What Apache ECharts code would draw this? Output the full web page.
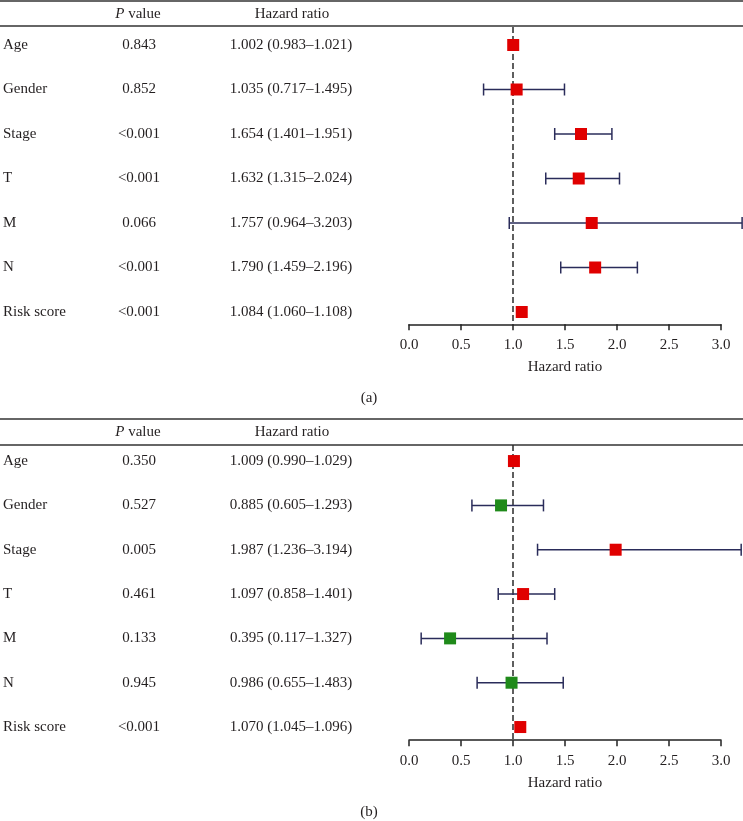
<!DOCTYPE html>
<html>
<head>
<meta charset="utf-8">
<script src="https://cdn.jsdelivr.net/npm/echarts@6/dist/echarts.min.js"></script>
<style>
html,body{margin:0;padding:0;background:#fff;}
#chart{width:743px;height:821px;}
</style>
</head>
<body>
<div id="chart"></div>
<script>
// ---- Data ----
var categories = ['Age', 'Gender', 'Stage', 'T', 'M', 'N', 'Risk score'];

var pValuesA = ['0.843', '0.852', '<0.001', '<0.001', '0.066', '<0.001', '<0.001'];
var hrA      = [1.002, 1.035, 1.654, 1.632, 1.757, 1.790, 1.084];
var lowerA   = [0.983, 0.717, 1.401, 1.315, 0.964, 1.459, 1.060];
var upperA   = [1.021, 1.495, 1.951, 2.024, 3.203, 2.196, 1.108];

var pValuesB = ['0.350', '0.527', '0.005', '0.461', '0.133', '0.945', '<0.001'];
var hrB      = [1.009, 0.885, 1.987, 1.097, 0.395, 0.986, 1.070];
var lowerB   = [0.990, 0.605, 1.236, 0.858, 0.117, 0.655, 1.045];
var upperB   = [1.029, 1.293, 3.194, 1.401, 1.327, 1.483, 1.096];

var xTicks = [0.0, 0.5, 1.0, 1.5, 2.0, 2.5, 3.0];
var refValue = 1;

// ---- Helpers ----
var FONT = '"Liberation Serif", "DejaVu Serif", serif';
var FS = 15;
var TXT = '#231f20';
var RED = '#e00000';
var GREEN = '#1f8a1a';
var BAR = '#2a2c5a';

function hrText(h, l, u) {
  return h.toFixed(3) + ' (' + l.toFixed(3) + '\u2013' + u.toFixed(3) + ')';
}

function buildData(hr, lo, up) {
  return hr.map(function (h, i) { return [h, lo[i], up[i], i]; });
}

var panels = [
  { p: pValuesA, hr: hrA, lo: lowerA, up: upperA, top: 22.75, height: 311.5, offset: -10, refTop: 27 },
  { p: pValuesB, hr: hrB, lo: lowerB, up: upperB, top: 438.9, height: 310.3, offset: -9, refTop: 445 }
];

var grids = [], xAxes = [], yAxes = [], series = [];

panels.forEach(function (pn, gi) {
  grids.push({ left: 408, right: 22, top: pn.top, height: pn.height, containLabel: false });
  xAxes.push({
    gridIndex: gi, type: 'value', min: 0, max: 3, interval: 0.5,
    position: 'bottom', offset: pn.offset,
    axisLine: { show: true, lineStyle: { color: '#222', width: 1.5 } },
    axisTick: { show: true, inside: false, length: 6, lineStyle: { color: '#222', width: 1.5 } },
    splitLine: { show: false },
    axisLabel: {
      margin: 13, fontFamily: FONT, fontSize: FS, color: TXT,
      formatter: function (v) { return xTicks.indexOf(v) >= 0 ? v.toFixed(1) : ''; }
    },
    name: 'Hazard ratio', nameLocation: 'middle', nameGap: 35,
    nameTextStyle: { fontFamily: FONT, fontSize: FS, color: TXT }
  });
  var catTexts = [
    { data: categories, margin: 406, align: 'left' },
    { data: pn.p, margin: 270, align: 'center' },
    { data: pn.hr.map(function (h, i) { return hrText(h, pn.lo[i], pn.up[i]); }), margin: 118, align: 'center' }
  ];
  catTexts.forEach(function (ct) {
    yAxes.push({
      gridIndex: gi, type: 'category', inverse: true, data: ct.data, position: 'left',
      axisLine: { show: false }, axisTick: { show: false }, splitLine: { show: false },
      axisLabel: { margin: ct.margin, align: ct.align, fontFamily: FONT, fontSize: FS, color: TXT, interval: 0 }
    });
  });
  var yIdx = gi * 3;
  // reference dashed line
  series.push({
    type: 'custom', xAxisIndex: gi, yAxisIndex: yIdx, clip: false, silent: true,
    data: [[refValue]],
    renderItem: function (params, api) {
      var x = api.coord([api.value(0), 0])[0];
      var cs = params.coordSys;
      return {
        type: 'line',
        shape: { x1: x, y1: pn.refTop, x2: x, y2: cs.y + cs.height + pn.offset },
        style: { stroke: '#2a2a2a', lineWidth: 1.5, lineDash: [6, 3] }
      };
    }
  });
  // error bars + squares
  series.push({
    type: 'custom', xAxisIndex: gi, yAxisIndex: yIdx, clip: false,
    data: buildData(pn.hr, pn.lo, pn.up),
    encode: { x: [0, 1, 2], y: 3 },
    renderItem: function (params, api) {
      var row = api.value(3);
      var c = api.coord([api.value(0), row]);
      var l = api.coord([api.value(1), row]);
      var u = api.coord([api.value(2), row]);
      var h = api.value(0);
      var cap = 6, sq = 12;
      var style = { stroke: BAR, lineWidth: 1.5 };
      return {
        type: 'group',
        children: [
          { type: 'line', shape: { x1: l[0], y1: c[1], x2: u[0], y2: c[1] }, style: style },
          { type: 'line', shape: { x1: l[0], y1: c[1] - cap, x2: l[0], y2: c[1] + cap }, style: style },
          { type: 'line', shape: { x1: u[0], y1: c[1] - cap, x2: u[0], y2: c[1] + cap }, style: style },
          { type: 'rect', shape: { x: c[0] - sq / 2, y: c[1] - sq / 2, width: sq, height: sq },
            style: { fill: h >= 1 ? RED : GREEN } }
        ]
      };
    }
  });
});

var ruleStyle = { stroke: '#333', lineWidth: 1.5 };
var headerFont = FS + 'px ' + FONT;
var italicRich = { i: { fontStyle: 'italic', fontFamily: FONT, fontSize: FS, fill: TXT } };

var option = {
  animation: false,
  backgroundColor: '#fff',
  grid: grids,
  xAxis: xAxes,
  yAxis: yAxes,
  series: series,
  graphic: [
    { type: 'line', shape: { x1: 0, y1: 1, x2: 743, y2: 1 }, style: ruleStyle },
    { type: 'line', shape: { x1: 0, y1: 26, x2: 743, y2: 26 }, style: ruleStyle },
    { type: 'line', shape: { x1: 0, y1: 419, x2: 743, y2: 419 }, style: ruleStyle },
    { type: 'line', shape: { x1: 0, y1: 445, x2: 743, y2: 445 }, style: ruleStyle },
    { type: 'text', x: 138, y: 14, style: { text: '{i|P} value', rich: italicRich, font: headerFont, fill: TXT, align: 'center', verticalAlign: 'middle' } },
    { type: 'text', x: 292, y: 14, style: { text: 'Hazard ratio', font: headerFont, fill: TXT, align: 'center', verticalAlign: 'middle' } },
    { type: 'text', x: 138, y: 432, style: { text: '{i|P} value', rich: italicRich, font: headerFont, fill: TXT, align: 'center', verticalAlign: 'middle' } },
    { type: 'text', x: 292, y: 432, style: { text: 'Hazard ratio', font: headerFont, fill: TXT, align: 'center', verticalAlign: 'middle' } },
    { type: 'text', x: 369, y: 398, style: { text: '(a)', font: headerFont, fill: TXT, align: 'center', verticalAlign: 'middle' } },
    { type: 'text', x: 369, y: 812, style: { text: '(b)', font: headerFont, fill: TXT, align: 'center', verticalAlign: 'middle' } }
  ]
};

var chart = echarts.init(document.getElementById('chart'), null, { renderer: 'canvas' });
chart.setOption(option);
</script>
</body>
</html>
